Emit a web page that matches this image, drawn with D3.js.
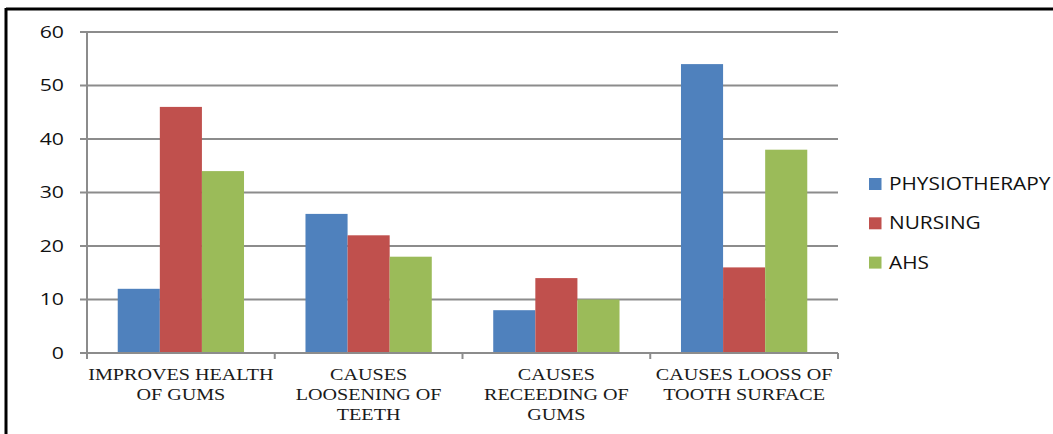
<!DOCTYPE html>
<html><head><meta charset="utf-8">
<script src="https://cdn.jsdelivr.net/npm/d3@7/dist/d3.min.js"></script>
<style>body{margin:0;background:#fff}svg{display:block}</style>
</head><body>
<svg id="c" width="1053" height="434"></svg>
<script>
const categories = [["IMPROVES HEALTH","OF GUMS"],["CAUSES","LOOSENING OF","TEETH"],["CAUSES","RECEEDING OF","GUMS"],["CAUSES LOOSS OF","TOOTH SURFACE"]];
const seriesNames = ["PHYSIOTHERAPY","NURSING","AHS"];
const physiotherapy = [12,26,8,54];
const nursing = [46,22,14,16];
const ahs = [34,18,10,38];
const yTicks = [0,10,20,30,40,50,60];
const colors = ["#4f81bd","#c0504d","#9bbb59"];
const seriesValues = [physiotherapy, nursing, ahs];

const svg = d3.select("#c");
// frame
svg.append("line").attr("x1",6).attr("x2",1053).attr("y1",9).attr("y2",9).attr("stroke","#000").attr("stroke-width",3);
svg.append("line").attr("x1",6).attr("x2",6).attr("y1",8).attr("y2",434).attr("stroke","#000").attr("stroke-width",3);

const x0 = 87, x1 = 838, yTop = 32, yBot = 353;
const x = d3.scaleBand().domain(d3.range(categories.length)).range([x0,x1]).paddingInner(0).paddingOuter(0);
const y = d3.scaleLinear().domain([0,60]).range([yBot,yTop]);
const xs = d3.scaleBand().domain(d3.range(3)).range([0,x.bandwidth()]).paddingInner(0).paddingOuter(0.73);

const SX = 1.25;
const sans = "Open Sans, Liberation Sans, sans-serif";

// gridlines
svg.append("g").selectAll("line").data(yTicks).join("line")
  .attr("x1",80).attr("x2",x1).attr("y1",d=>y(d)).attr("y2",d=>y(d))
  .attr("stroke","#8c8c8c").attr("stroke-width",2);
// y labels
svg.append("g").selectAll("text").data(yTicks).join("text")
  .attr("transform",d=>`translate(64,${y(d)}) scale(${SX},1)`)
  .attr("dy","0.35em").attr("text-anchor","end")
  .attr("font-family",sans).attr("font-size",17).attr("fill","#111").text(d=>d);

// bars
seriesValues.forEach((vals,si)=>{
  svg.append("g").selectAll("rect").data(vals).join("rect")
    .attr("x",(d,i)=>x(i)+xs(si)).attr("width",xs.bandwidth())
    .attr("y",d=>y(d)).attr("height",d=>y(0)-y(d)).attr("fill",colors[si]);
});

// axes lines
svg.append("line").attr("x1",x0).attr("x2",x0).attr("y1",yTop).attr("y2",yBot+5).attr("stroke","#8c8c8c").attr("stroke-width",2);
svg.append("line").attr("x1",80).attr("x2",x1).attr("y1",yBot).attr("y2",yBot).attr("stroke","#8c8c8c").attr("stroke-width",2);
const tickXs = d3.range(categories.length+1).map(i=> i<categories.length ? x(i) : x1);
svg.append("g").selectAll("line").data(tickXs).join("line")
  .attr("x1",d=>d).attr("x2",d=>d).attr("y1",yBot).attr("y2",yBot+6).attr("stroke","#8c8c8c").attr("stroke-width",2);

// x labels
const xl = svg.append("g").selectAll("text").data(categories).join("text")
  .attr("transform",(d,i)=>`translate(${x(i)+x.bandwidth()/2},380) scale(1.22,1)`)
  .attr("text-anchor","middle").attr("font-family","Liberation Serif, Times New Roman, serif")
  .attr("font-size",16.5).attr("fill","#1a1a1a");
xl.each(function(lines){
  d3.select(this).selectAll("tspan").data(lines).join("tspan")
    .attr("x",0).attr("y",(d,j)=>j*20).text(d=>d);
});

// legend
const lg = svg.append("g").selectAll("g").data(seriesNames).join("g")
  .attr("transform",(d,i)=>`translate(869,${184+i*39.3})`);
lg.append("rect").attr("x",0).attr("y",-6).attr("width",12.5).attr("height",12).attr("fill",(d,i)=>colors[i]);
lg.append("text").attr("transform",`translate(20,0) scale(1.19,1)`).attr("dy","0.35em")
  .attr("font-family",sans).attr("font-size",17.5).attr("fill","#111").text(d=>d);
</script>
</body></html>
